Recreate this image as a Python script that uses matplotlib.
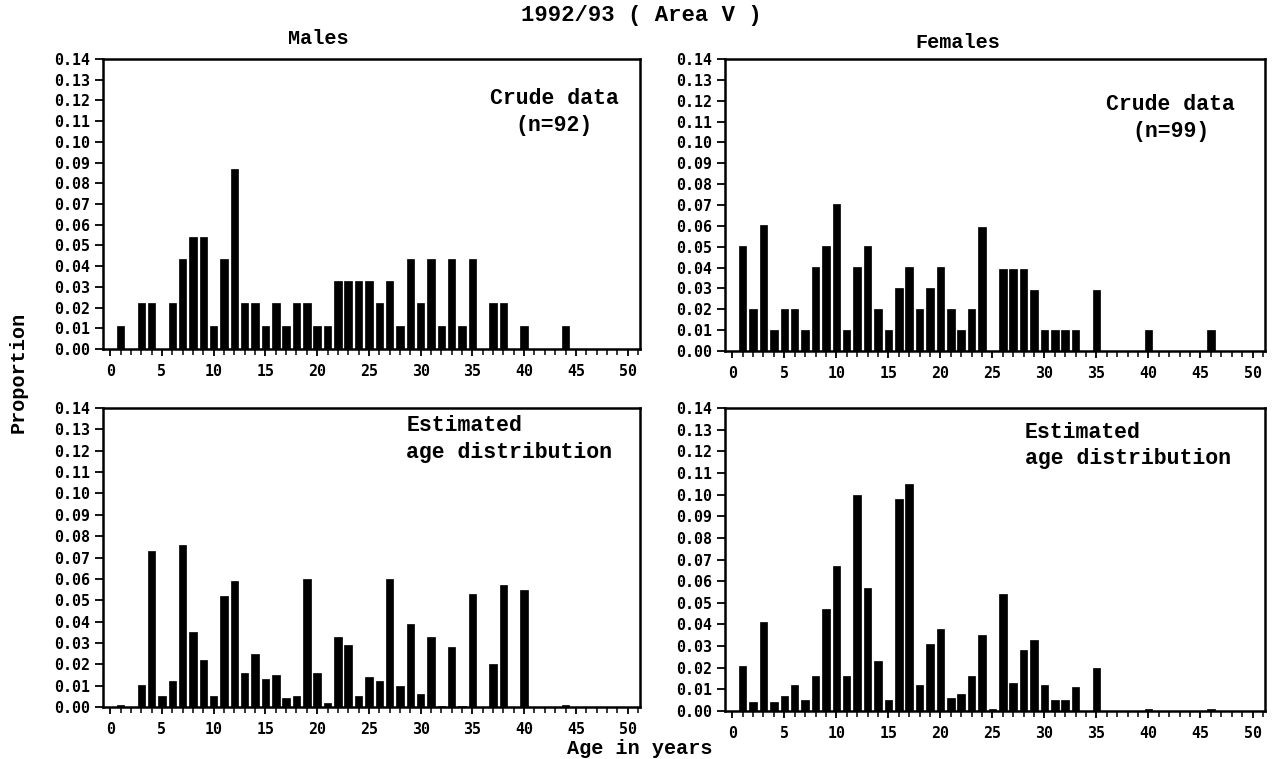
import matplotlib
matplotlib.use("Agg")
import matplotlib.pyplot as plt
import numpy as np
from matplotlib.ticker import MultipleLocator, FixedLocator

# ---- data ----
male_crude_ages = [1, 3, 4, 6, 7, 8, 9, 10, 11, 12, 13, 14, 15, 16, 17, 18, 19, 20, 21,
                   22, 23, 24, 25, 26, 27, 28, 29, 30, 31, 32, 33, 34, 35, 37, 38, 40, 44]
male_crude_vals = [0.011, 0.022, 0.022, 0.022, 0.0435, 0.054, 0.054, 0.011, 0.0435, 0.087,
                   0.022, 0.022, 0.011, 0.022, 0.011, 0.022, 0.022, 0.011, 0.011,
                   0.0326, 0.0326, 0.0326, 0.0326, 0.022, 0.0326, 0.011, 0.0435, 0.022,
                   0.0435, 0.011, 0.0435, 0.011, 0.0435, 0.022, 0.022, 0.011, 0.011]

female_crude_ages = [1, 2, 3, 4, 5, 6, 7, 8, 9, 10, 11, 12, 13, 14, 15, 16, 17, 18, 19, 20,
                     21, 22, 23, 24, 26, 27, 28, 29, 30, 31, 32, 33, 35, 40, 46]
female_crude_vals = [0.0505, 0.0202, 0.0606, 0.0101, 0.0202, 0.0202, 0.0101, 0.0404, 0.0505,
                     0.0707, 0.0101, 0.0404, 0.0505, 0.0202, 0.0101, 0.0303, 0.0404, 0.0202,
                     0.0303, 0.0404, 0.0202, 0.0101, 0.0202, 0.0596, 0.0394, 0.0394, 0.0394,
                     0.0293, 0.0101, 0.0101, 0.0101, 0.0101, 0.0293, 0.0101, 0.0101]

male_est_ages = [1, 3, 4, 5, 6, 7, 8, 9, 10, 11, 12, 13, 14, 15, 16, 17, 18, 19, 20, 21,
                 22, 23, 24, 25, 26, 27, 28, 29, 30, 31, 32, 33, 34, 35, 37, 38, 40, 44]
male_est_vals = [0.001, 0.0105, 0.073, 0.005, 0.012, 0.0757, 0.035, 0.022, 0.005, 0.052,
                 0.059, 0.016, 0.025, 0.013, 0.015, 0.004, 0.005, 0.060, 0.016, 0.002,
                 0.033, 0.029, 0.005, 0.014, 0.012, 0.060, 0.010, 0.039, 0.006, 0.033,
                 0.0007, 0.028, 0.0007, 0.053, 0.020, 0.057, 0.055, 0.001]

female_est_ages = [1, 2, 3, 4, 5, 6, 7, 8, 9, 10, 11, 12, 13, 14, 15, 16, 17, 18, 19, 20,
                   21, 22, 23, 24, 25, 26, 27, 28, 29, 30, 31, 32, 33, 35, 40, 46]
female_est_vals = [0.021, 0.004, 0.041, 0.004, 0.007, 0.012, 0.005, 0.016, 0.047, 0.067,
                   0.016, 0.100, 0.057, 0.023, 0.005, 0.098, 0.105, 0.012, 0.031, 0.038,
                   0.006, 0.008, 0.016, 0.035, 0.0007, 0.054, 0.013, 0.028, 0.033, 0.012,
                   0.005, 0.005, 0.011, 0.020, 0.001, 0.001]

ytick_vals = [i / 100 for i in range(15)]
ytick_labels = ["0.%02d" % i for i in range(15)]
xtick_vals = [0, 5, 10, 15, 20, 25, 30, 35, 40, 45, 50]

W, H = 1274, 759
fig = plt.figure(figsize=(W / 100, H / 100), dpi=100)

tickfont = dict(family="DejaVu Sans Mono", weight="bold", size=10.8)
textfont = dict(family="Liberation Mono", weight="bold")

def px_axes(left, top, right, bottom):
    return fig.add_axes([left / W, 1 - bottom / H, (right - left) / W, (bottom - top) / H])

panels = [
    (px_axes(103, 59, 640, 349), male_crude_ages, male_crude_vals),
    (px_axes(725, 59, 1265, 351), female_crude_ages, female_crude_vals),
    (px_axes(103, 408, 640, 707), male_est_ages, male_est_vals),
    (px_axes(725, 408, 1265, 711), female_est_ages, female_est_vals),
]

for ax, ages, vals in panels:
    ax.bar(ages, vals, width=0.72, color="black", edgecolor="black", linewidth=0.5)
    ax.set_ylim(0, 0.14)
    ax.set_xlim(-0.7, 51.2)
    ax.set_yticks(ytick_vals)
    ax.set_yticklabels(ytick_labels, **tickfont)
    ax.set_xticks(xtick_vals)
    ax.set_xticklabels([str(v) for v in xtick_vals], **tickfont)
    ax.xaxis.set_minor_locator(MultipleLocator(1))
    ax.tick_params(axis="y", which="major", direction="out", length=6, width=1.3, pad=3)
    ax.tick_params(axis="x", which="major", direction="out", length=5, width=1.3, pad=6)
    ax.tick_params(axis="x", which="minor", direction="out", length=4, width=1.1)
    for s in ax.spines.values():
        s.set_linewidth(1.8)

ax_tl, ax_tr, ax_bl, ax_br = [p[0] for p in panels]

ax_tl.text(0.84, 0.90, "Crude data\n(n=92)", transform=ax_tl.transAxes, ha="center",
           va="top", fontsize=15.5, linespacing=1.35, **textfont)
ax_tr.text(0.825, 0.88, "Crude data\n(n=99)", transform=ax_tr.transAxes, ha="center",
           va="top", fontsize=15.5, linespacing=1.35, **textfont)
ax_bl.text(0.565, 0.975, "Estimated\nage distribution", transform=ax_bl.transAxes,
           ha="left", va="top", fontsize=15.5, linespacing=1.35, **textfont)
ax_br.text(0.555, 0.955, "Estimated\nage distribution", transform=ax_br.transAxes,
           ha="left", va="top", fontsize=15.5, linespacing=1.35, **textfont)

fig.text(641 / W, 1 - 16 / H, "1992/93 ( Area V )", ha="center", va="center",
         fontsize=16, **textfont)
fig.text(318 / W, 1 - 38 / H, "Males", ha="center", va="center", fontsize=14.5, **textfont)
fig.text(958 / W, 1 - 42 / H, "Females", ha="center", va="center", fontsize=14.5, **textfont)
fig.text(18 / W, 1 - 372 / H, "Proportion", ha="center", va="center", rotation=90,
         fontsize=14.5, **textfont)
fig.text(640 / W, 1 - 748 / H, "Age in years", ha="center", va="center",
         fontsize=14.5, **textfont)

fig.savefig("out.png", dpi=100)
